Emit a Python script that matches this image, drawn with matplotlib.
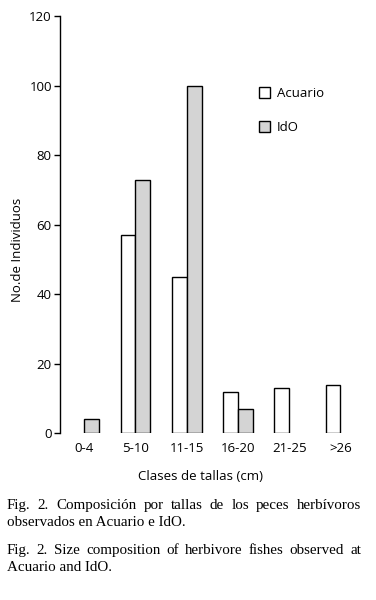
import numpy as np
import matplotlib
matplotlib.use("Agg")
import matplotlib.pyplot as plt
from matplotlib.patches import Rectangle

# data
clases = ['0-4', '5-10', '11-15', '16-20', '21-25', '>26']
acuario = [0, 57, 45, 12, 13, 14]
ido = [4, 73, 100, 7, 0, 0]
yticks = [0, 20, 40, 60, 80, 100, 120]

caption_es = ["Fig. 2. Composición por tallas de los peces herbívoros",
              "observados en Acuario e IdO."]
caption_en = ["Fig. 2. Size composition of herbivore fishes observed at",
              "Acuario and IdO."]

SANS = 'Open Sans'
SERIF = 'Liberation Serif'
FS = 9.5
CFS = 10.8

fig = plt.figure(figsize=(3.76, 6.0), dpi=100)
ax = fig.add_axes([0.16, 0.278, 0.80, 0.695])

x = np.arange(len(clases))
w = 0.29
for i in range(len(clases)):
    if acuario[i] > 0:
        ax.bar(x[i] - w / 2, acuario[i], w, color='white', edgecolor='black', linewidth=1.0)
    if ido[i] > 0:
        ax.bar(x[i] + w / 2, ido[i], w, color='#d4d4d4', edgecolor='black', linewidth=1.0)

ax.set_xlim(-0.47, 5.4)
ax.set_ylim(0, 120)
ax.set_yticks(yticks)
ax.set_yticklabels([str(t) for t in yticks], fontfamily=SANS, fontsize=FS)
ax.set_xticks(x)
ax.set_xticklabels(clases, fontfamily=SANS, fontsize=FS)
ax.tick_params(axis='x', length=0, pad=6)
ax.tick_params(axis='y', direction='out', length=4, width=1, pad=2)
for s in ['top', 'right', 'bottom']:
    ax.spines[s].set_visible(False)
ax.spines['left'].set_linewidth(1)

ax.set_ylabel('No.de Individuos', fontfamily=SANS, fontsize=FS, va='center')
ax.yaxis.set_label_coords(-0.143, 0.44)
ax.set_xlabel('Clases de tallas (cm)', fontfamily=SANS, fontsize=FS, va='center')
ax.xaxis.set_label_coords(0.465, -0.103)

handles = [Rectangle((0, 0), 1, 1, facecolor='white', edgecolor='black', linewidth=1),
           Rectangle((0, 0), 1, 1, facecolor='#d4d4d4', edgecolor='black', linewidth=1)]
ax.legend(handles, ['Acuario', 'IdO'], frameon=False, loc='upper left',
          bbox_to_anchor=(0.62, 0.858), handlelength=0.9, handleheight=0.9,
          handletextpad=0.5, labelspacing=1.58, prop={'family': SANS, 'size': FS})

# justified caption lines
renderer = fig.canvas.get_renderer()
W, H = fig.get_size_inches() * fig.dpi
left_px, right_px = 7, 361


def put_line(text, ypx, justify):
    # ypx: baseline position in pixels from top
    words = text.split(' ')
    if not justify:
        fig.text(left_px / W, 1 - ypx / H, text, fontfamily=SERIF, fontsize=CFS,
                 va='baseline', ha='left')
        return
    objs = [fig.text(0, 1 - ypx / H, wd, fontfamily=SERIF, fontsize=CFS,
                     va='baseline', ha='left') for wd in words]
    widths = [o.get_window_extent(renderer).width for o in objs]
    gap = (right_px - left_px - sum(widths)) / (len(words) - 1)
    pos = left_px
    for o, wd in zip(objs, widths):
        o.set_x(pos / W)
        pos += wd + gap


put_line(caption_es[0], 509, True)
put_line(caption_es[1], 526, False)
put_line(caption_en[0], 554, True)
put_line(caption_en[1], 571, False)

fig.savefig('out.png', dpi=100)
